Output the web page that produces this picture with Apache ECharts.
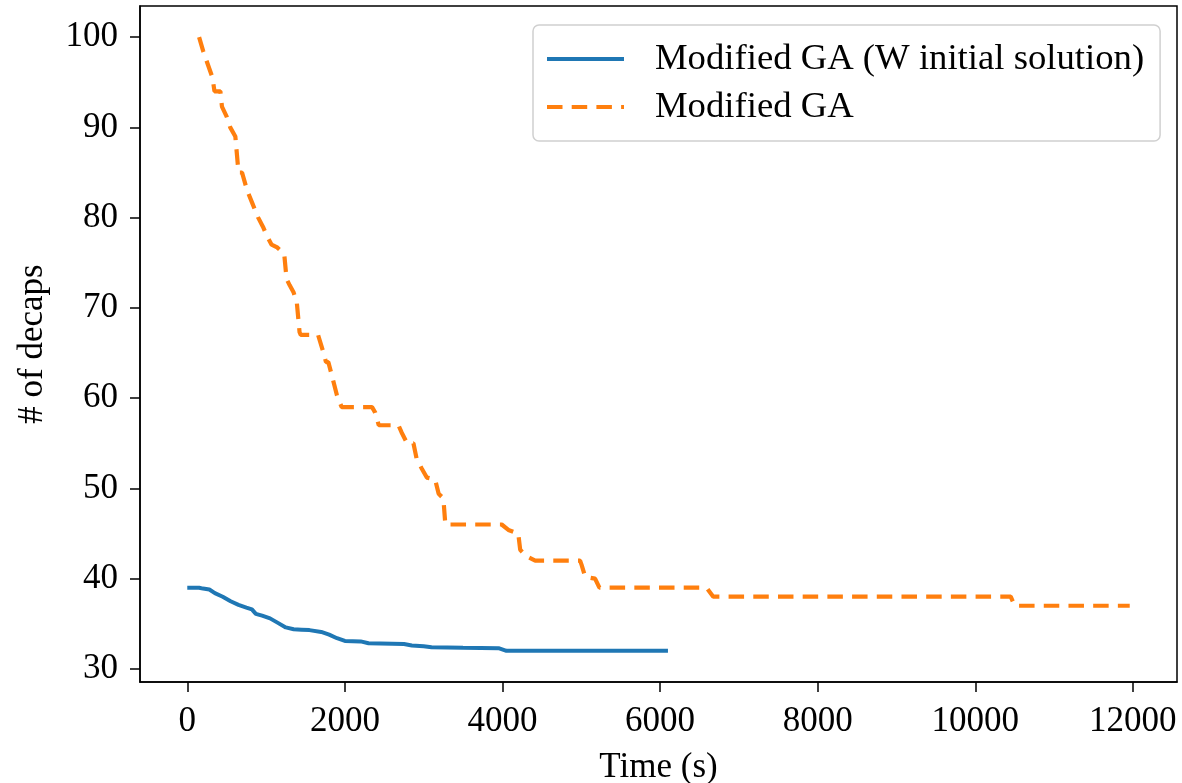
<!DOCTYPE html>
<html>
<head>
<meta charset="utf-8">
<script src="https://cdn.jsdelivr.net/npm/echarts@6/dist/echarts.min.js"></script>
<style>
html,body{margin:0;padding:0;background:#fff;}
#chart{width:1182px;height:783px;}
</style>
</head>
<body>
<div id="chart"></div>
<script>
// Series 1: Modified GA (W initial solution)
var timeW = [0,150,200,280,350,450,550,650,750,820,870,950,1050,1150,1250,1350,1450,1550,1700,1800,1900,2000,2200,2300,2600,2750,2850,3000,3100,3500,3950,4050,6100];
var decapsW = [39.0,39.0,38.9,38.8,38.4,38.0,37.5,37.1,36.8,36.6,36.1,35.9,35.6,35.1,34.6,34.4,34.35,34.3,34.1,33.8,33.4,33.1,33.05,32.85,32.8,32.75,32.6,32.5,32.4,32.35,32.3,32.0,32.0];

// Series 2: Modified GA
var timeGA = [150,200,260,320,345,420,440,500,545,610,640,650,695,760,830,900,960,1010,1070,1140,1230,1260,1300,1350,1390,1425,1440,1660,1730,1760,1790,1835,1900,1960,2345,2385,2430,2680,2720,2790,2870,2910,2975,3040,3145,3190,3250,3275,3990,4075,4200,4225,4300,4415,4985,5005,5050,5175,5230,6590,6675,10450,10500,11960];
var decapsGA = [100,98.5,97,95.5,94,94,92.3,91.2,90,89,86,85,85,83,81.5,80,79,78,77,76.7,76,73.2,72.5,71.7,70.6,67.3,67,67,65,64,64,62.5,60.3,59,59,58.4,57,57,56.2,55,55,53.3,52.2,51.2,51,49.4,48.9,46,46,45.4,45,43.2,42.5,42,42,41.5,40.2,40,39,39,38,38,37,37];

var seriesNames = ['Modified GA (W initial solution)', 'Modified GA'];
var xTicks = [0,2000,4000,6000,8000,10000,12000];
var yTicks = [30,40,50,60,70,80,90,100];
var xName = 'Time (s)';
var yName = '# of decaps';

function pairs(xs, ys){ return xs.map(function(x,i){ return [x, ys[i]]; }); }

var font = 'Liberation Serif, Times New Roman, serif';
var chart = echarts.init(document.getElementById('chart'), null, {renderer:'canvas'});
chart.setOption({
  animation: false,
  backgroundColor: '#fff',
  grid: {left:140, right:5, top:6, bottom:101, show:true, borderColor:'#000', borderWidth:1.5,
         backgroundColor:'transparent', containLabel:false, outerBoundsMode:'none'},
  legend: {
    orient:'vertical', left:533, top:25,
    padding:[14,16,14,12],
    itemWidth:77, itemHeight:2, itemGap:8,
    borderColor:'#d0d0d0', borderWidth:1.5, borderRadius:6,
    backgroundColor:'#fff',
    itemStyle:{opacity:0},
    lineStyle:{width:4},
    textStyle:{fontFamily:font, fontSize:36.7, color:'#000', lineHeight:40, padding:[0,0,0,26]},
    data: seriesNames
  },
  xAxis: {
    type:'value', min:-600, max:12560,
    name:xName, nameLocation:'middle', nameGap:68,
    nameTextStyle:{fontFamily:font, fontSize:35, color:'#000'},
    splitLine:{show:false},
    axisLine:{show:true, onZero:false, lineStyle:{color:'#000', width:1.5}},
    axisTick:{show:true, length:10, lineStyle:{color:'#000', width:1.5}, customValues:xTicks},
    axisLabel:{fontFamily:font, fontSize:35, color:'#000', margin:22, customValues:xTicks,
      formatter:function(v){ return String(v); }}
  },
  yAxis: {
    type:'value', min:28.55, max:103.45,
    name:yName, nameLocation:'middle', nameGap:90,
    nameTextStyle:{fontFamily:font, fontSize:35, color:'#000'},
    splitLine:{show:false},
    axisLine:{show:true, onZero:false, lineStyle:{color:'#000', width:1.5}},
    axisTick:{show:true, length:10, lineStyle:{color:'#000', width:1.5}, customValues:yTicks},
    axisLabel:{fontFamily:font, fontSize:35, color:'#000', margin:22, customValues:yTicks}
  },
  series: [
    {name:seriesNames[0], type:'line', data:pairs(timeW, decapsW), symbol:'none', showSymbol:false,
     lineStyle:{color:'#1f77b4', width:4}, itemStyle:{color:'#1f77b4'}},
    {name:seriesNames[1], type:'line', data:pairs(timeGA, decapsGA), symbol:'none', showSymbol:false,
     lineStyle:{color:'#ff7f0e', width:4.2, type:[15.5,9.2]}, itemStyle:{color:'#ff7f0e'}}
  ]
});
</script>
</body>
</html>
